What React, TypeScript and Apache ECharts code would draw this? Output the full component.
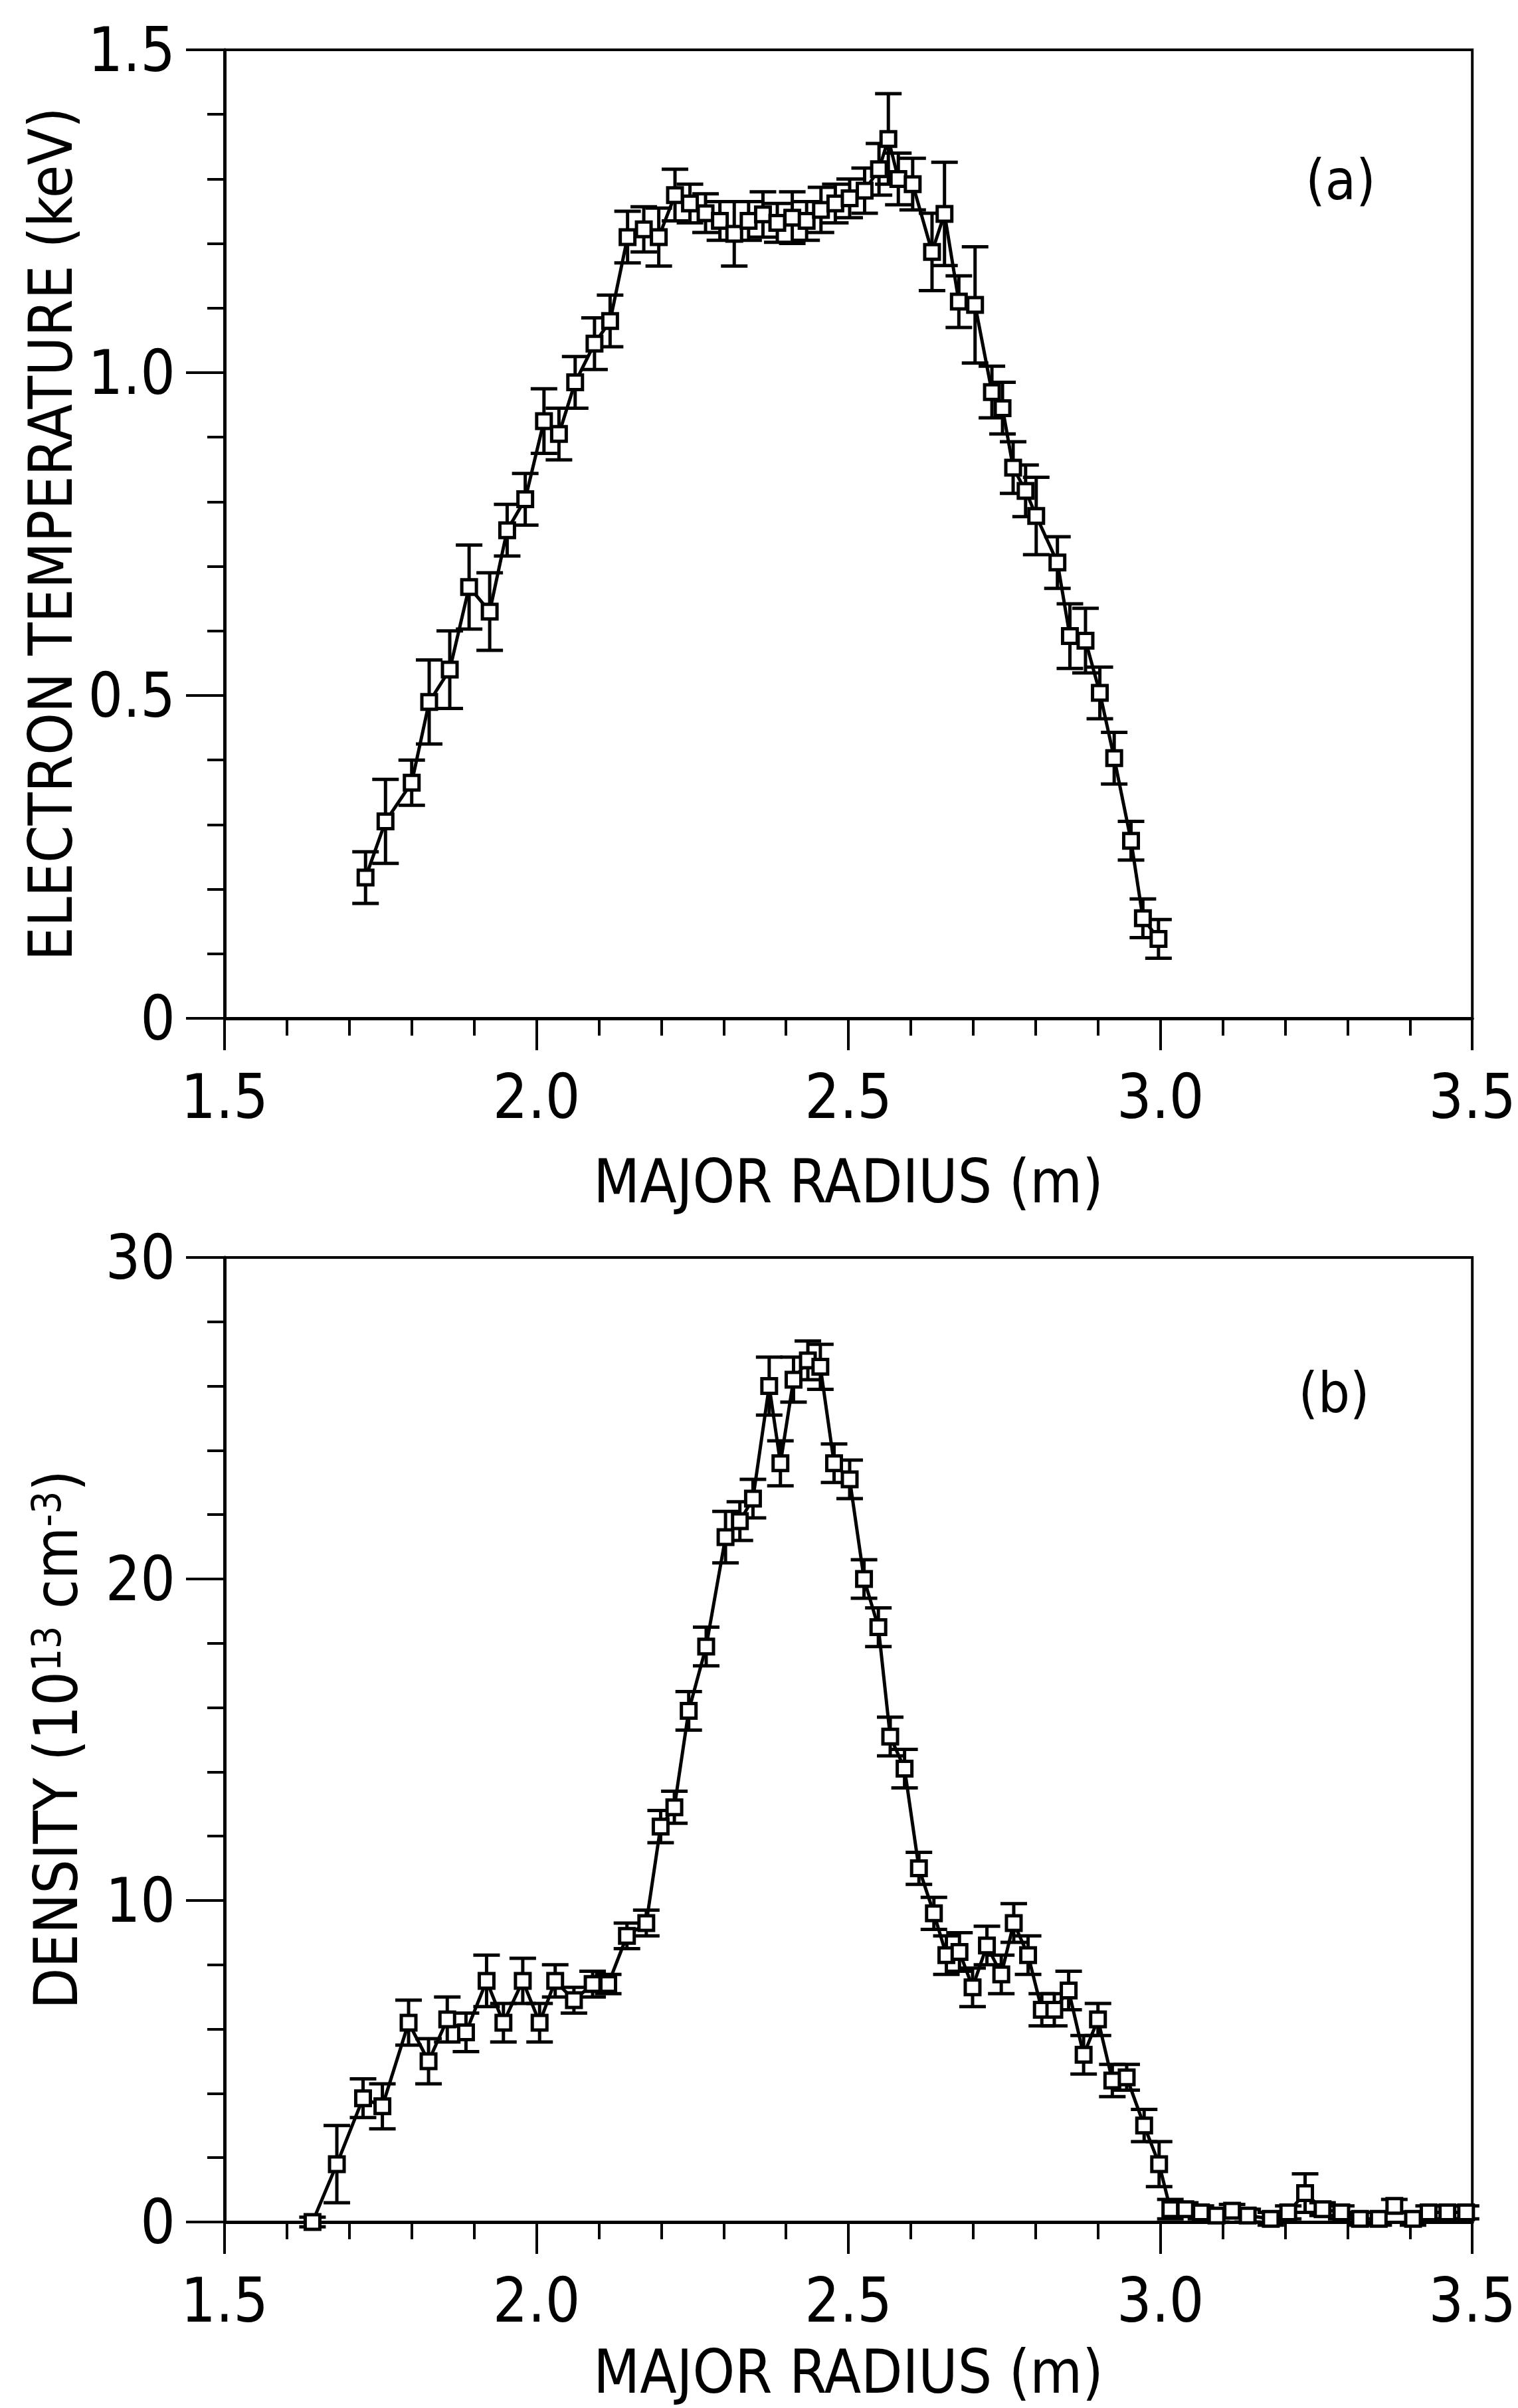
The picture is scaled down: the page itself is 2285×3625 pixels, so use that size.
import React, { useEffect, useRef } from "react";
import * as echarts from "echarts";

const FONT = "'DejaVu Sans Condensed', 'Liberation Sans Narrow', 'DejaVu Sans', sans-serif";

// Panel (a): electron temperature profile
const teRadius = [
  1.726, 1.758, 1.8, 1.828, 1.861, 1.892, 1.925, 1.953, 1.982, 2.012, 2.036, 2.062, 2.093, 2.118,
  2.146, 2.172, 2.196, 2.222, 2.246, 2.271, 2.294, 2.317, 2.34, 2.363, 2.386, 2.41, 2.433, 2.456,
  2.479, 2.502, 2.526, 2.549, 2.564, 2.58, 2.603, 2.634, 2.654, 2.677, 2.703, 2.73, 2.747, 2.764,
  2.784, 2.801, 2.835, 2.855, 2.88, 2.903, 2.926, 2.953, 2.972, 2.997,
];
const teValue = [
  0.218, 0.305, 0.365, 0.49, 0.54, 0.668, 0.63, 0.756, 0.804, 0.925, 0.905, 0.985, 1.045, 1.08,
  1.21, 1.222, 1.21, 1.275, 1.262, 1.247, 1.235, 1.215, 1.235, 1.245, 1.232, 1.24, 1.235, 1.252,
  1.262, 1.27, 1.282, 1.315, 1.362, 1.3, 1.292, 1.187, 1.246, 1.11, 1.105, 0.97, 0.945, 0.853,
  0.817, 0.778, 0.706, 0.592, 0.585, 0.504, 0.403, 0.275, 0.155, 0.123,
];
const teError = [
  0.04, 0.065, 0.035, 0.065, 0.06, 0.065, 0.06, 0.04, 0.04, 0.05, 0.04, 0.04, 0.04, 0.04,
  0.04, 0.035, 0.045, 0.04, 0.03, 0.03, 0.03, 0.05, 0.03, 0.035, 0.03, 0.04, 0.03, 0.035,
  0.03, 0.03, 0.035, 0.04, 0.07, 0.04, 0.04, 0.06, 0.08, 0.04, 0.09, 0.04, 0.04, 0.04,
  0.04, 0.06, 0.04, 0.05, 0.05, 0.04, 0.04, 0.03, 0.03, 0.03,
];

// Panel (b): density profile
const neRadius = [
  1.641, 1.68, 1.722, 1.753, 1.795, 1.827, 1.857, 1.887, 1.92, 1.947, 1.978, 2.005, 2.03, 2.06,
  2.09, 2.115, 2.145, 2.176, 2.199, 2.221, 2.244, 2.272, 2.303, 2.326, 2.347, 2.373, 2.391, 2.412,
  2.435, 2.455, 2.477, 2.502, 2.525, 2.548, 2.567, 2.59, 2.613, 2.637, 2.657, 2.678, 2.699, 2.722,
  2.745, 2.765, 2.788, 2.81, 2.83, 2.853, 2.877, 2.9, 2.923, 2.946, 2.974, 2.998, 3.016, 3.04,
  3.065, 3.09, 3.115, 3.14, 3.177, 3.205, 3.232, 3.26, 3.29, 3.32, 3.35, 3.375, 3.405, 3.43,
  3.46, 3.49,
];
const neValue = [
  0.0, 1.8, 3.85, 3.6, 6.2, 5.0, 6.3, 5.9, 7.5, 6.2, 7.5, 6.2, 7.5, 6.9,
  7.4, 7.4, 8.9, 9.3, 12.3, 12.9, 15.9, 17.9, 21.3, 21.8, 22.5, 26.0, 23.6, 26.2,
  26.8, 26.6, 23.6, 23.1, 20.0, 18.5, 15.1, 14.1, 11.0, 9.6, 8.3, 8.4, 7.3, 8.6,
  7.7, 9.3, 8.3, 6.6, 6.6, 7.2, 5.2, 6.3, 4.4, 4.5, 3.0, 1.8, 0.4, 0.4,
  0.3, 0.2, 0.35, 0.2, 0.1, 0.3, 0.9, 0.4, 0.3, 0.1, 0.1, 0.5, 0.1, 0.3,
  0.3, 0.3,
];
const neError = [
  0.15, 1.2, 0.6, 0.7, 0.7, 0.7, 0.7, 0.6, 0.8, 0.6, 0.7, 0.6, 0.5, 0.4,
  0.4, 0.3, 0.4, 0.4, 0.5, 0.5, 0.6, 0.6, 0.8, 0.6, 0.6, 0.9, 0.7, 0.7,
  0.6, 0.7, 0.6, 0.6, 0.6, 0.6, 0.6, 0.6, 0.5, 0.5, 0.6, 0.6, 0.6, 0.6,
  0.6, 0.6, 0.6, 0.5, 0.5, 0.6, 0.6, 0.5, 0.5, 0.4, 0.5, 0.7, 0.3, 0.2,
  0.2, 0.2, 0.2, 0.2, 0.2, 0.2, 0.6, 0.2, 0.2, 0.2, 0.2, 0.2, 0.2, 0.2,
  0.2, 0.2,
];

const xTitle = "MAJOR RADIUS (m)";
const teTitle = "ELECTRON TEMPERATURE (keV)";

const AXIS_W = 5;
const TICK_W = 4;
const MARK_W = 5;

function xAxisCfg(gridIndex: number, nameGap: number) {
  return {
    type: "value",
    gridIndex,
    min: 1.5,
    max: 3.5,
    interval: 0.5,
    name: xTitle,
    nameLocation: "middle",
    nameGap,
    nameTextStyle: { fontSize: 90, color: "#000", fontFamily: FONT },
    axisLine: { show: true, onZero: false, lineStyle: { color: "#000", width: AXIS_W } },
    axisTick: { show: true, inside: false, length: 48, lineStyle: { color: "#000", width: TICK_W } },
    minorTick: { show: true, splitNumber: 5, length: 26, lineStyle: { color: "#000", width: TICK_W } },
    axisLabel: {
      fontSize: 92,
      color: "#000",
      fontFamily: FONT,
      margin: 72,
      formatter: (v: number) => v.toFixed(1),
    },
    splitLine: { show: false },
    minorSplitLine: { show: false },
  };
}

function yAxisTicks(gridIndex: number, max: number, interval: number, fmt: (v: number) => string, name: any, nameGap: number, rich?: any) {
  return {
    type: "value",
    gridIndex,
    min: 0,
    max,
    interval,
    name,
    nameLocation: "middle",
    nameRotate: 90,
    nameGap,
    nameTextStyle: { fontSize: 90, color: "#000", fontFamily: FONT, rich },
    axisLine: { show: true, onZero: false, lineStyle: { color: "#000", width: AXIS_W } },
    axisTick: { show: true, inside: false, length: 58, lineStyle: { color: "#000", width: TICK_W } },
    minorTick: { show: true, splitNumber: 5, length: 26, lineStyle: { color: "#000", width: TICK_W } },
    axisLabel: { fontSize: 92, color: "#000", fontFamily: FONT, margin: 74, formatter: fmt },
    splitLine: { show: false },
    minorSplitLine: { show: false },
  };
}

function errorBarSeries(xi: number, xs: number[], ys: number[], es: number[]) {
  return {
    type: "custom",
    xAxisIndex: xi,
    yAxisIndex: xi,
    z: 3,
    encode: { x: 0, y: [1, 2] },
    data: xs.map((x, i) => [x, ys[i] - es[i], ys[i] + es[i]]),
    renderItem: (params: any, api: any) => {
      const x = api.value(0);
      const lo = api.coord([x, api.value(1)]);
      const hi = api.coord([x, api.value(2)]);
      const hw = 20;
      const style = { stroke: "#000", lineWidth: MARK_W };
      return {
        type: "group",
        children: [
          { type: "line", shape: { x1: lo[0], y1: lo[1], x2: hi[0], y2: hi[1] }, style },
          { type: "line", shape: { x1: hi[0] - hw, y1: hi[1], x2: hi[0] + hw, y2: hi[1] }, style },
          { type: "line", shape: { x1: lo[0] - hw, y1: lo[1], x2: lo[0] + hw, y2: lo[1] }, style },
        ],
      };
    },
  };
}

function lineSeries(xi: number, xs: number[], ys: number[]) {
  return {
    type: "line",
    xAxisIndex: xi,
    yAxisIndex: xi,
    z: 4,
    data: xs.map((x, i) => [x, ys[i]]),
    symbol: "rect",
    symbolSize: 22,
    showAllSymbol: true,
    itemStyle: { color: "#fff", borderColor: "#000", borderWidth: MARK_W },
    lineStyle: { color: "#000", width: MARK_W },
  };
}

export default function App() {
  const ref = useRef<HTMLDivElement>(null);
  useEffect(() => {
    if (!ref.current) return;
    const chart = echarts.init(ref.current, undefined, { renderer: "svg" });
    const option: any = {
      animation: false,
      backgroundColor: "#fff",
      grid: [
        { left: 338, top: 75, width: 1882, height: 1458, show: true, borderColor: "#000", borderWidth: 4, backgroundColor: "transparent" },
        { left: 338, top: 1893, width: 1882, height: 1452, show: true, borderColor: "#000", borderWidth: 4, backgroundColor: "transparent" },
      ],
      xAxis: [xAxisCfg(0, 200), xAxisCfg(1, 180)],
      yAxis: [
        yAxisTicks(0, 1.5, 0.5, (v: number) => (v === 0 ? "0" : v.toFixed(1)), teTitle, 200),
        yAxisTicks(
          1,
          30,
          10,
          (v: number) => String(v),
          "{m|DENSITY (10}{s|13}{m| cm}{s|-3}{m|)}",
          185,
          {
            m: { fontSize: 90, lineHeight: 90, verticalAlign: "bottom", fontFamily: FONT, color: "#000" },
            s: { fontSize: 60, lineHeight: 60, padding: [0, 0, 48, 0], verticalAlign: "top", fontFamily: FONT, color: "#000" },
          }
        ),
      ],
      series: [
        errorBarSeries(0, teRadius, teValue, teError),
        lineSeries(0, teRadius, teValue),
        errorBarSeries(1, neRadius, neValue, neError),
        lineSeries(1, neRadius, neValue),
      ],
      graphic: [
        { type: "text", x: 2018, y: 271, style: { text: "(a)", fontSize: 84, fontFamily: FONT, fill: "#000", textAlign: "center", textVerticalAlign: "middle" } },
        { type: "text", x: 2008, y: 2097, style: { text: "(b)", fontSize: 84, fontFamily: FONT, fill: "#000", textAlign: "center", textVerticalAlign: "middle" } },
      ],
    };
    chart.setOption(option);
    return () => chart.dispose();
  }, []);
  return <div ref={ref} style={{ position: "absolute", left: 0, top: 0, width: 2285, height: 3625 }} />;
}
